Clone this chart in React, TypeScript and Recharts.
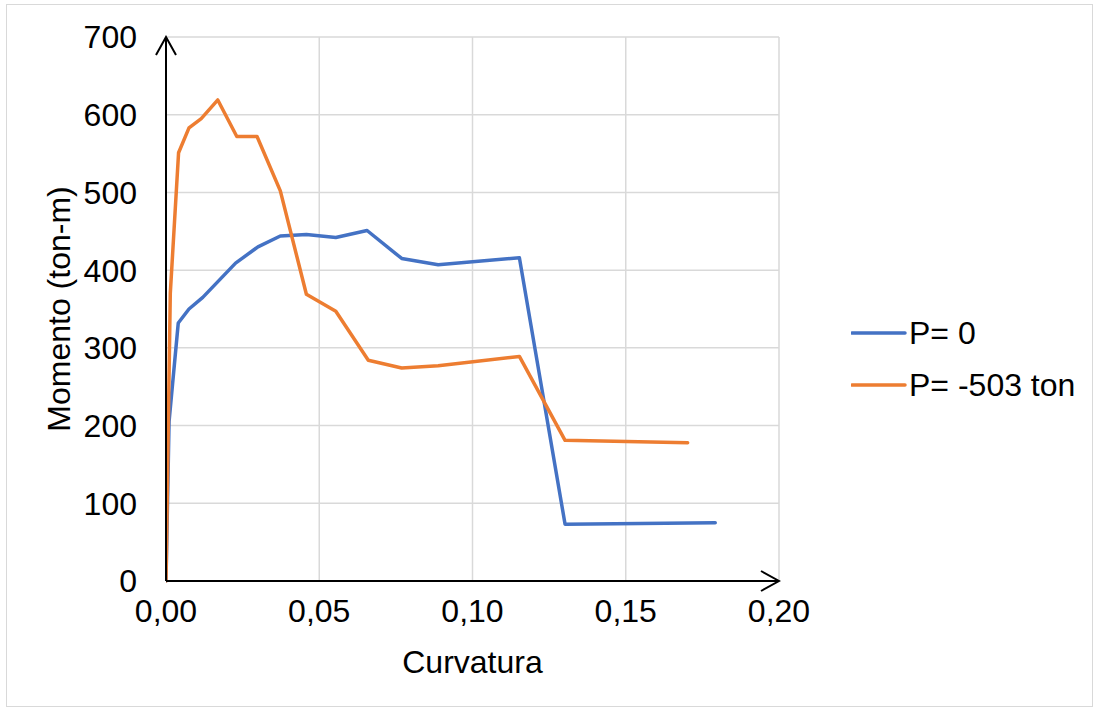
import React from "react";
import {
  LineChart,
  Line,
  XAxis,
  YAxis,
  CartesianGrid,
  Label,
} from "recharts";

// Curvatura vs momento, dos niveles de carga axial
const X_TICKS = [0, 0.05, 0.1, 0.15, 0.2];
const Y_TICKS = [0, 100, 200, 300, 400, 500, 600, 700];

const P0_CURV = [0, 0.001, 0.004, 0.0075, 0.012, 0.0227, 0.03, 0.0373, 0.0458, 0.0554, 0.0656, 0.0769, 0.0888, 0.1153, 0.1302, 0.1792];
const P0_MOM = [0, 205, 332, 350, 365, 409, 430, 444, 446, 442, 451, 415, 407, 416, 73, 75];

const P503_CURV = [0, 0.0014, 0.0041, 0.0075, 0.0115, 0.0169, 0.0231, 0.0297, 0.0373, 0.0458, 0.0554, 0.066, 0.0769, 0.0888, 0.1153, 0.1302, 0.1702];
const P503_MOM = [0, 370, 551, 583, 595, 619, 572, 572, 502, 369, 347, 284, 274, 277, 289, 181, 178];

const SERIES = [
  { key: "p0", label: "P= 0", color: "#4472C4", curv: P0_CURV, mom: P0_MOM },
  { key: "p503", label: "P= -503 ton", color: "#ED7D31", curv: P503_CURV, mom: P503_MOM },
];

const FONT = "'Liberation Sans', Arial, sans-serif";
const TICK = { fill: "#000", fontSize: 32, fontFamily: FONT };

const fmtComma = (v: number) => v.toFixed(2).replace(".", ",");

function YTitle(props: any) {
  const vb = props.viewBox || {};
  const cx = 70;
  const cy = vb.y + vb.height / 2;
  return (
    <text
      x={cx}
      y={cy}
      transform={`rotate(-90, ${cx}, ${cy})`}
      textAnchor="middle"
      fill="#000"
      fontSize={32}
      fontFamily={FONT}
    >
      Momento (ton-m)
    </text>
  );
}

export default function App() {
  const lines = SERIES.map((s) => ({
    ...s,
    data: s.curv.map((x, i) => ({ x, y: s.mom[i] })),
  }));

  return (
    <div style={{ position: "absolute", left: 0, top: 0, width: 1101, height: 714, background: "#fff" }}>
      <svg width={0} height={0} style={{ position: "absolute" }}>
        <defs>
          <marker
            id="axis-arrow"
            viewBox="-2 -2 22 24"
            refX={18}
            refY={10}
            markerWidth={22}
            markerHeight={24}
            markerUnits="userSpaceOnUse"
            orient="auto-start-reverse"
          >
            <path d="M0,0 L18,10 L0,20" fill="none" stroke="#000" strokeWidth={2} />
          </marker>
        </defs>
      </svg>
      <div
        style={{
          position: "absolute",
          left: 6,
          top: 4,
          width: 1087,
          height: 703,
          border: "1.5px solid #d9d9d9",
          boxSizing: "border-box",
        }}
      />
      <div style={{ position: "absolute", left: 0, top: 0 }}>
        <LineChart width={1101} height={714} margin={{ top: 37, right: 322, bottom: 0, left: 0 }}>
          <CartesianGrid stroke="#d9d9d9" strokeWidth={1.5} />
          <XAxis
            type="number"
            dataKey="x"
            domain={[0, 0.2]}
            ticks={X_TICKS}
            tickFormatter={fmtComma}
            tick={TICK}
            tickLine={false}
            tickSize={0}
            tickMargin={18}
            height={133}
            axisLine={{ stroke: "#000", strokeWidth: 2, markerEnd: "url(#axis-arrow)" } as any}
            allowDataOverflow
          >
            <Label
              value="Curvatura"
              position="insideBottom"
              offset={41}
              fill="#000"
              fontSize={32}
              fontFamily={FONT}
            />
          </XAxis>
          <YAxis
            type="number"
            dataKey="y"
            domain={[0, 700]}
            ticks={Y_TICKS}
            tick={TICK}
            tickLine={false}
            tickSize={0}
            tickMargin={29}
            width={166}
            axisLine={{ stroke: "#000", strokeWidth: 2, markerStart: "url(#axis-arrow)" } as any}
          >
            <Label content={<YTitle />} />
          </YAxis>
          {lines.map((s) => (
            <Line
              key={s.key}
              data={s.data}
              dataKey="y"
              name={s.label}
              type="linear"
              stroke={s.color}
              strokeWidth={3.5}
              strokeLinejoin="round"
              strokeLinecap="round"
              dot={false}
              activeDot={false}
              isAnimationActive={false}
            />
          ))}
        </LineChart>
      </div>
      <div style={{ position: "absolute", left: 851, top: 307, fontFamily: FONT, fontSize: 32, color: "#000" }}>
        {SERIES.map((s) => (
          <div key={s.key} style={{ display: "flex", alignItems: "center", height: 52 }}>
            <svg width={58} height={10}>
              <line x1={1} y1={5} x2={54} y2={5} stroke={s.color} strokeWidth={3.5} strokeLinecap="round" />
            </svg>
            <span style={{ lineHeight: "52px", whiteSpace: "nowrap" }}>{s.label}</span>
          </div>
        ))}
      </div>
    </div>
  );
}
